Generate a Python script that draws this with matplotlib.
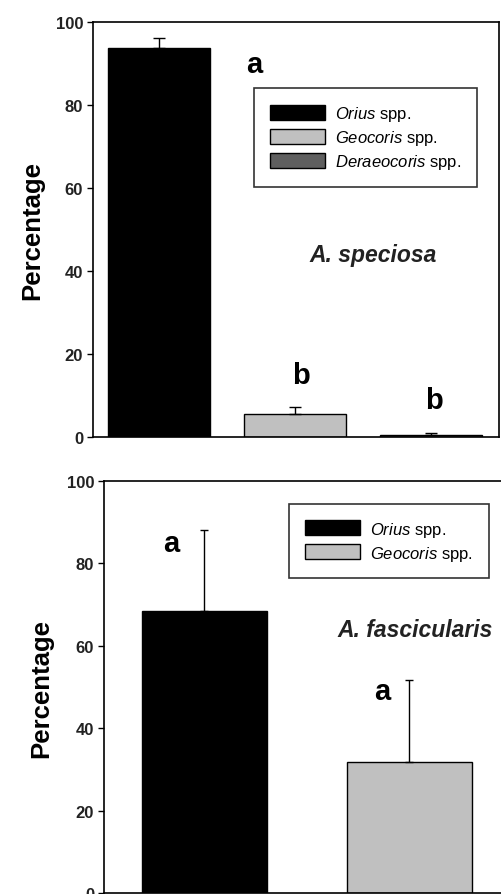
import matplotlib
matplotlib.use("Agg")
import matplotlib.pyplot as plt
from matplotlib.patches import Patch

plt.rcParams['font.family'] = ['Liberation Sans', 'DejaVu Sans']
plt.rcParams['mathtext.fontset'] = 'custom'
plt.rcParams['mathtext.it'] = 'Liberation Sans:italic'
plt.rcParams['mathtext.rm'] = 'Liberation Sans'

## Data
# top panel: A. speciosa
sp_taxa = ['Orius', 'Geocoris', 'Deraeocoris']
sp_values = [93.7, 5.5, 0.5]
sp_errors = [2.4, 1.7, 0.5]
sp_letters = ['a', 'b', 'b']

# bottom panel: A. fascicularis
fa_taxa = ['Orius', 'Geocoris']
fa_values = [68.4, 31.8]
fa_errors = [19.6, 19.8]
fa_letters = ['a', 'a']

colors = {'Orius': '#000000', 'Geocoris': '#c0c0c0', 'Deraeocoris': '#5f5f5f'}
yticks = [0, 20, 40, 60, 80, 100]

fig = plt.figure(figsize=(5.02, 8.95), dpi=100)


def style_axis(ax, pad):
    ax.set_ylim(0, 100)
    ax.set_yticks(yticks)
    ax.set_xticks([])
    ax.tick_params(axis='y', direction='out', length=4, width=1, pad=3)
    for lbl in ax.get_yticklabels():
        lbl.set_fontweight('bold')
        lbl.set_fontsize(12)
        lbl.set_color('#222222')
    for sp in ax.spines.values():
        sp.set_linewidth(1.2)
    ax.set_ylabel('Percentage', fontsize=18.5, fontweight='bold', labelpad=pad)


def legend_for(ax, taxa, **kw):
    handles = [Patch(facecolor=colors[t], edgecolor='black', linewidth=1) for t in taxa]
    labels = [r'$\it{%s}$ spp.' % t for t in taxa]
    leg = ax.legend(handles, labels, fontsize=12, frameon=True, fancybox=False,
                    edgecolor='black', handlelength=3.3, handleheight=1.0,
                    borderpad=0.95, labelspacing=0.3, handletextpad=0.6, **kw)
    leg.get_frame().set_linewidth(1.2)
    return leg


# ---- top panel
ax1 = fig.add_axes([0.185, 0.5106, 0.809, 0.4637])
x1 = list(range(len(sp_taxa)))
ax1.bar(x1, sp_values, width=0.75, color=[colors[t] for t in sp_taxa],
        edgecolor='black', linewidth=1, zorder=2)
ax1.errorbar(x1, sp_values, yerr=[[0] * len(sp_errors), sp_errors], fmt='none',
             ecolor='black', elinewidth=1, capsize=4, capthick=1, zorder=3)
ax1.set_xlim(-0.49, 2.5)
style_axis(ax1, 8)
letter_pos1 = [(0.70, 90), (1.04, 15), (2.02, 9)]
for (lx, ly), lt in zip(letter_pos1, sp_letters):
    ax1.text(lx, ly, lt, fontsize=21, fontweight='bold', ha='center', va='center')
legend_for(ax1, sp_taxa, loc='upper left', bbox_to_anchor=(0.377, 0.86))
ax1.text(1.57, 44, 'A. speciosa', fontsize=16.5, fontweight='bold', style='italic',
         ha='center', va='center', color='#222222')

# ---- bottom panel
ax2 = fig.add_axes([0.207, 0.001, 0.80, 0.4605])
x2 = list(range(len(fa_taxa)))
ax2.bar(x2, fa_values, width=0.61, color=[colors[t] for t in fa_taxa],
        edgecolor='black', linewidth=1, zorder=2)
ax2.errorbar(x2, fa_values, yerr=[[0] * len(fa_errors), fa_errors], fmt='none',
             ecolor='black', elinewidth=1, capsize=3, capthick=1, zorder=3)
ax2.set_xlim(-0.49, 1.47)
style_axis(ax2, 10)
letter_pos2 = [(-0.16, 85), (0.87, 49)]
for (lx, ly), lt in zip(letter_pos2, fa_letters):
    ax2.text(lx, ly, lt, fontsize=21, fontweight='bold', ha='center', va='center')
legend_for(ax2, fa_taxa, loc='upper left', bbox_to_anchor=(0.44, 0.965))
ax2.text(1.03, 64, 'A. fascicularis', fontsize=16.5, fontweight='bold', style='italic',
         ha='center', va='center', color='#222222')

fig.savefig('out.png', dpi=100)
